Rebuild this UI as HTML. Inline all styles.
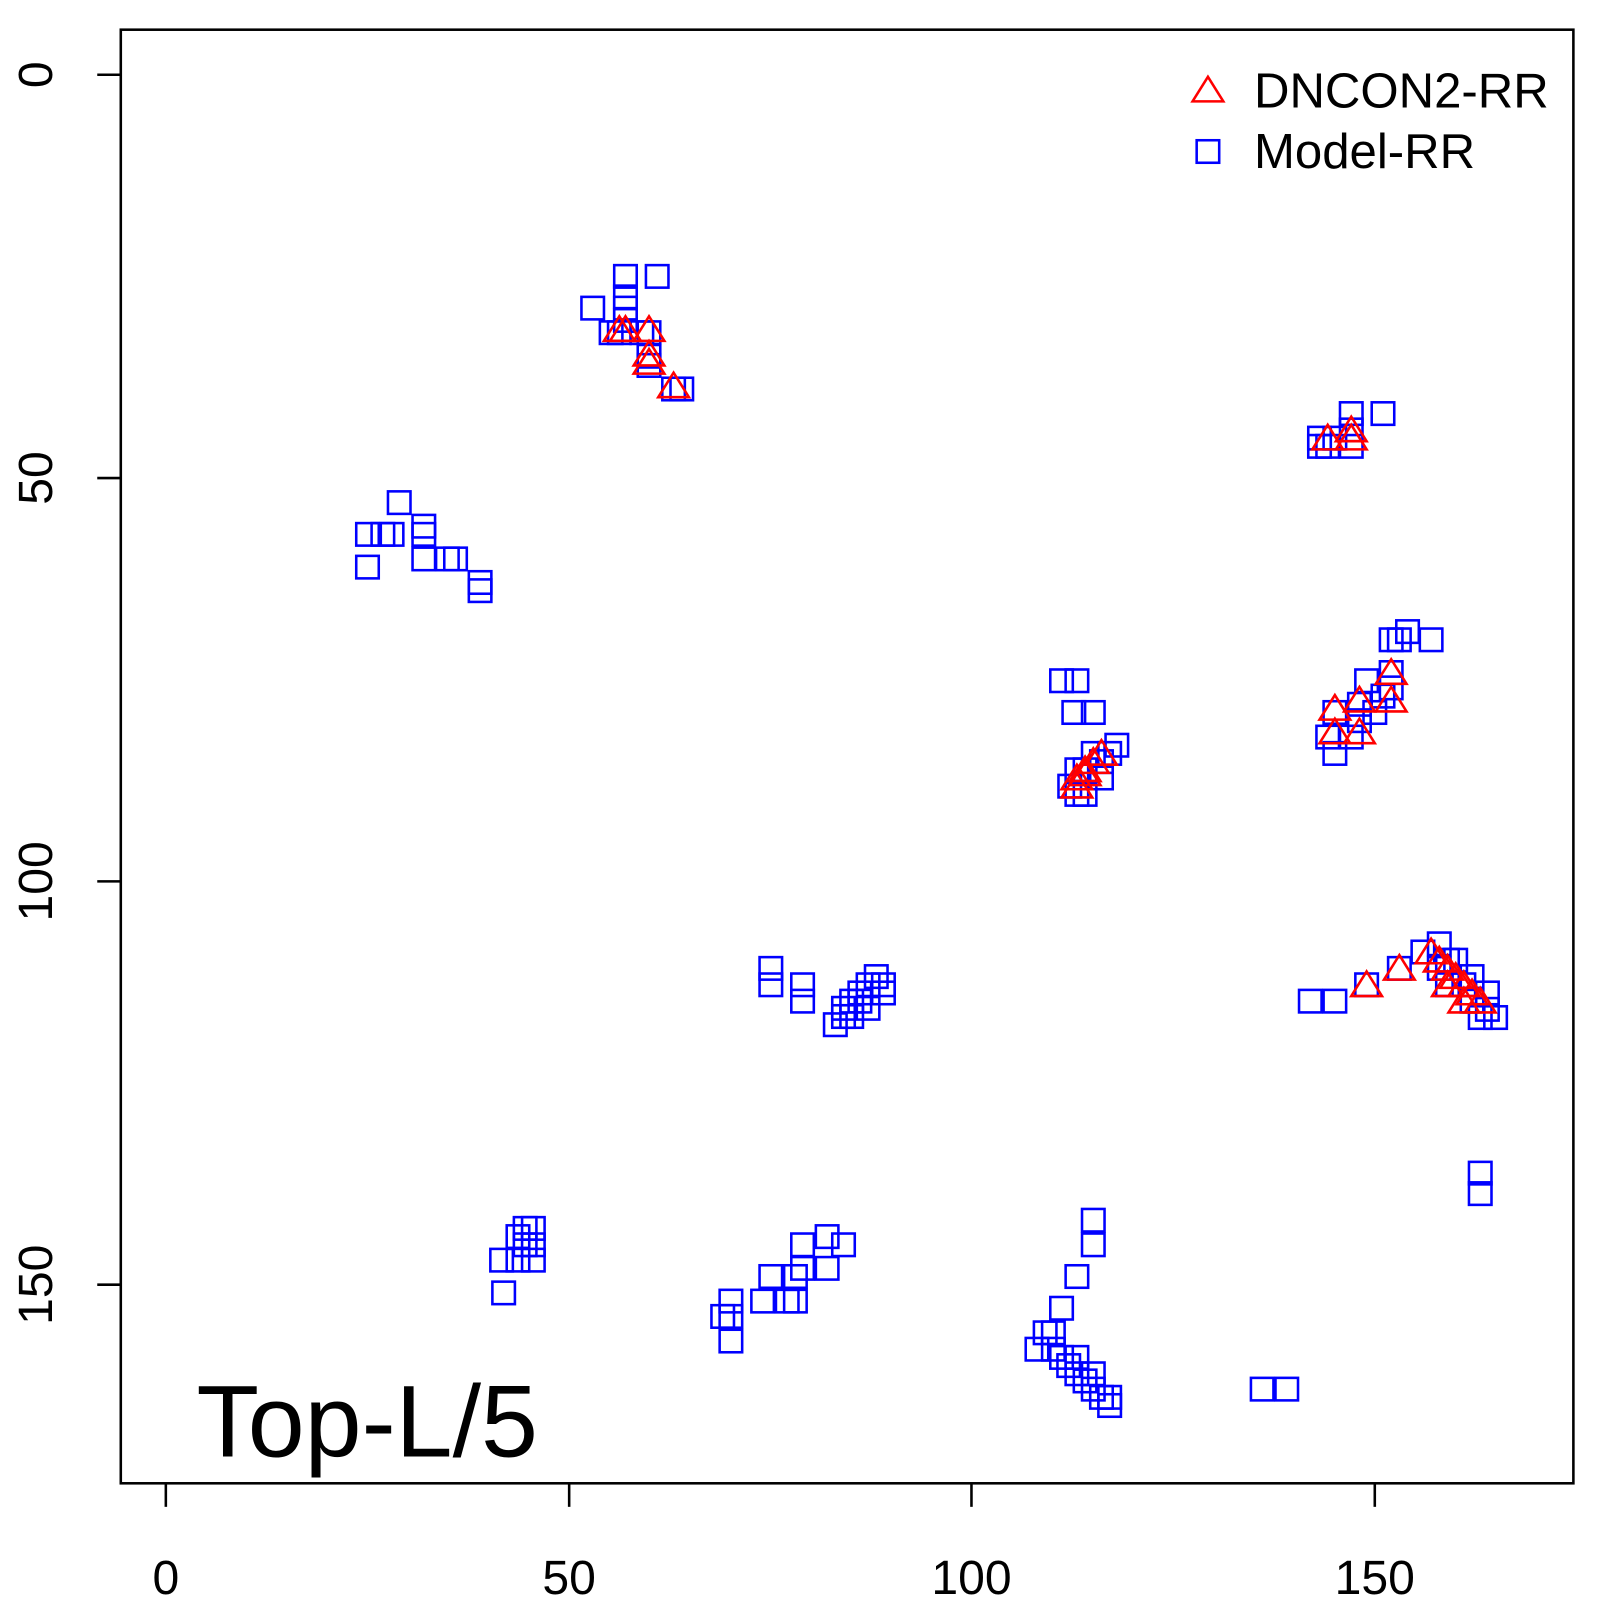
<!DOCTYPE html><html><head><style>body{margin:0;background:#fff}</style></head><body>
<svg width="1600" height="1600" viewBox="0 0 1563 1563" xmlns="http://www.w3.org/2000/svg" font-family="Liberation Sans, sans-serif">
<rect x="118" y="29" width="1419" height="1420" fill="none" stroke="#000" stroke-width="2.5"/>
<g stroke="#000" stroke-width="2.5">
<line x1="162" y1="1449" x2="162" y2="1472"/><line x1="556" y1="1449" x2="556" y2="1472"/><line x1="949" y1="1449" x2="949" y2="1472"/><line x1="1343" y1="1449" x2="1343" y2="1472"/>
<line x1="118" y1="73" x2="95" y2="73"/><line x1="118" y1="467" x2="95" y2="467"/><line x1="118" y1="861" x2="95" y2="861"/><line x1="118" y1="1255" x2="95" y2="1255"/>
</g>
<g font-size="47" text-anchor="middle" fill="#000">
<text x="162" y="1557">0</text><text x="556" y="1557">50</text><text x="949" y="1557">100</text><text x="1343" y="1557">150</text>
<text transform="translate(51,73) rotate(-90)">0</text><text transform="translate(51,467) rotate(-90)">50</text><text transform="translate(51,861) rotate(-90)">100</text><text transform="translate(51,1255) rotate(-90)">150</text>
</g>
<text x="192" y="1423" font-size="100">Top-L/5</text>
<text x="1225" y="105" font-size="48">DNCON2-RR</text>
<text x="1225" y="164" font-size="48">Model-RR</text>
<g id="sq" fill="none" stroke="#0000ff" stroke-width="2.5"></g>
<g id="tr" fill="none" stroke="#ff0000" stroke-width="2.5"></g>
</svg>
<script>
var S=[[1180,148],[611,270],[642,270],[579,301],[611,290],[611,301],[605,325],[634,325],[611,313],[634,348],[634,357],[658,380],[666,380],[597,325],[627,325],
[390,491],[359,522],[383,522],[414,514],[414,522],[414,546],[437,546],[445,546],[359,554],[469,569],[469,577],[374,522],
[1320,404],[1351,404],[1289,428],[1289,436],[1297,436],[1320,420],[1320,436],[1304,428],
[1359,625],[1375,617],[1398,625],[1367,625],[1359,657],[1335,665],[1328,688],[1304,696],[1297,720],[1304,736],[1320,720],[1351,680],[1343,696],[1328,704],[1359,672],
[1280,978],[1304,978],[1335,962],[1367,946],[1390,930],[1406,922],[1414,938],[1422,938],[1438,954],[1430,962],[1453,970],[1461,994],[1446,994],[1453,986],[1406,946],[1414,962],[1438,978],
[1446,1146],[1446,1166],
[753,946],[753,962],[784,962],[784,978],[816,1001],[824,993],[824,985],[832,978],[840,970],[848,962],[856,954],[863,962],[863,970],[848,985],[840,978],[832,993],
[490,1231],[506,1208],[513,1200],[521,1200],[506,1231],[521,1231],[513,1216],[521,1216],[492,1263],
[706,1286],[714,1271],[714,1310],[714,1286],[745,1271],[753,1247],[769,1271],[777,1271],[777,1247],[784,1239],[784,1216],[808,1208],[808,1239],[824,1216],
[1068,1192],[1068,1216],[1052,1247],[1037,1278],[1021,1302],[1013,1318],[1029,1318],[1037,1326],[1044,1334],[1052,1342],[1060,1349],[1068,1357],[1076,1365],[1084,1365],[1084,1373],[1052,1326],[1068,1342],[1029,1302],
[1233,1357],[1257,1357],
[1037,665],[1052,665],[1049,696],[1068,696],[1091,728],[1084,736],[1076,744],[1068,736],[1060,752],[1045,768],[1052,776],[1060,776],[1076,760],[1052,752]];
var T=[[1180,88],[605,322],[611,322],[634,322],[634,346],[634,354],[658,377],[1297,428],[1320,420],[1320,428],
[1076,736],[1068,744],[1060,752],[1052,760],[1052,768],[1060,756],
[1359,657],[1359,684],[1328,684],[1304,692],[1304,715],[1328,715],
[1335,962],[1367,946],[1398,930],[1406,938],[1414,946],[1422,954],[1430,962],[1438,970],[1446,978],[1430,978],[1414,962]];
var ns="http://www.w3.org/2000/svg",g=document.getElementById("sq"),h=document.getElementById("tr");
S.forEach(function(p){var r=document.createElementNS(ns,"rect");r.setAttribute("x",p[0]-11);r.setAttribute("y",p[1]-11);r.setAttribute("width",22);r.setAttribute("height",22);g.appendChild(r);});
T.forEach(function(p){var r=document.createElementNS(ns,"polygon");var x=p[0],y=p[1];r.setAttribute("points",x+","+(y-13)+" "+(x-15)+","+(y+11)+" "+(x+15)+","+(y+11));h.appendChild(r);});
</script>
</body></html>
